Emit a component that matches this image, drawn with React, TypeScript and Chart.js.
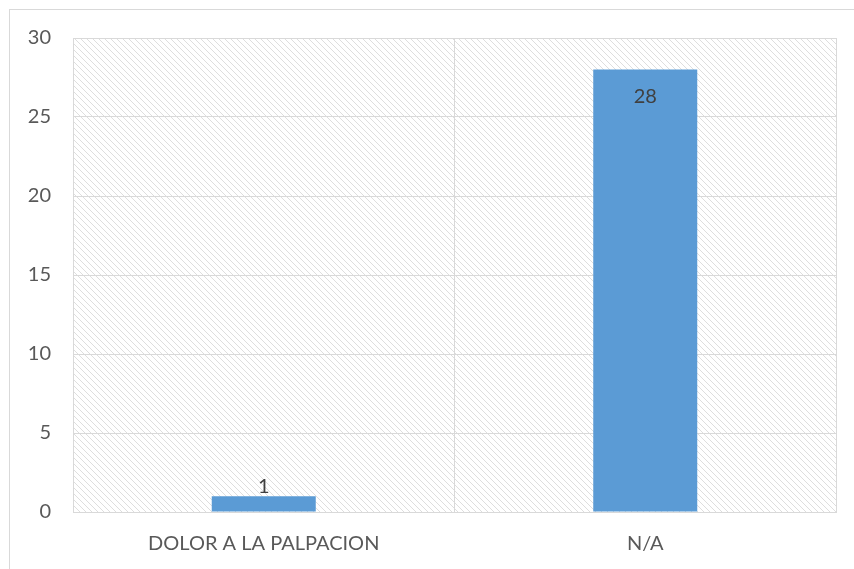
import React, { useEffect, useRef } from "react";
import { Chart, registerables } from "chart.js";

Chart.register(...registerables);

// Chart data
const categories = ["DOLOR A LA PALPACION", "N/A"];
const counts = [1, 28];
const yMin = 0;
const yMax = 30;
const yStep = 5;

const FONT = "Lato, 'Liberation Sans', sans-serif";
const GRID = "#d9d9d9";
const BAR = "#5b9bd5";

function makeHatch(): CanvasPattern | string {
  const c = document.createElement("canvas");
  c.width = 6;
  c.height = 6;
  const ctx = c.getContext("2d");
  if (!ctx) return "#ffffff";
  ctx.fillStyle = "#ffffff";
  ctx.fillRect(0, 0, 6, 6);
  ctx.fillStyle = "#dedede";
  for (let i = 0; i < 6; i++) ctx.fillRect(i, i, 1, 1);
  return ctx.createPattern(c, "repeat") || "#ffffff";
}

// Hatched plot background
const hatchBackground = {
  id: "hatchBackground",
  beforeDraw(chart: any) {
    const { ctx, chartArea } = chart;
    ctx.save();
    ctx.fillStyle = makeHatch();
    ctx.fillRect(chartArea.left, chartArea.top, chartArea.right - chartArea.left, chartArea.bottom - chartArea.top);
    ctx.restore();
  },
};

// Value labels: inside the top of tall bars, above short ones
const valueLabels = {
  id: "valueLabels",
  afterDatasetsDraw(chart: any) {
    const { ctx } = chart;
    const meta = chart.getDatasetMeta(0);
    ctx.save();
    ctx.font = `20px ${FONT}`;
    ctx.fillStyle = "#404040";
    ctx.textAlign = "center";
    meta.data.forEach((bar: any, i: number) => {
      const v = counts[i];
      const h = bar.base - bar.y;
      if (h > 40) {
        ctx.textBaseline = "middle";
        ctx.fillText(String(v), bar.x, bar.y + 27);
      } else {
        ctx.textBaseline = "alphabetic";
        ctx.fillText(String(v), bar.x, bar.y - 3);
      }
    });
    ctx.restore();
  },
};

export default function App() {
  const ref = useRef<HTMLCanvasElement | null>(null);

  useEffect(() => {
    if (!ref.current) return;
    const chart = new Chart(ref.current, {
      type: "bar",
      data: {
        labels: categories,
        datasets: [
          {
            data: counts,
            backgroundColor: BAR,
            borderWidth: 0,
            barPercentage: 0.2726,
            categoryPercentage: 1,
          },
        ],
      },
      options: {
        animation: false,
        responsive: false,
        events: [],
        layout: { padding: { left: 0, right: 18, top: 38, bottom: 0 } },
        plugins: {
          legend: { display: false },
          tooltip: { enabled: false },
        },
        scales: {
          x: {
            offset: true,
            grid: { color: GRID, lineWidth: 1, offset: true, drawTicks: false },
            border: { color: GRID },
            ticks: {
              color: "#595959",
              font: { family: FONT, size: 20 },
              padding: 20,
              maxRotation: 0,
            },
            afterFit(scale: any) {
              scale.height = 57;
            },
          },
          y: {
            min: yMin,
            max: yMax,
            grid: { color: GRID, lineWidth: 1, drawTicks: false },
            border: { display: true, color: GRID },
            ticks: {
              stepSize: yStep,
              color: "#595959",
              font: { family: FONT, size: 20 },
              padding: 22,
            },
            afterFit(scale: any) {
              scale.width = 73;
            },
          },
        },
      },
      plugins: [hatchBackground, valueLabels],
    });
    return () => chart.destroy();
  }, []);

  return (
    <div style={{ position: "fixed", left: 0, top: 0, width: 854, height: 569, background: "#ffffff", overflow: "hidden" }}>
      <div
        style={{
          position: "absolute",
          left: 9,
          top: 9,
          width: 1000,
          height: 1000,
          borderLeft: `1px solid ${GRID}`,
          borderTop: `1px solid ${GRID}`,
        }}
      />
      <canvas ref={ref} width={854} height={569} style={{ position: "absolute", left: 0, top: 0 }} />
    </div>
  );
}
